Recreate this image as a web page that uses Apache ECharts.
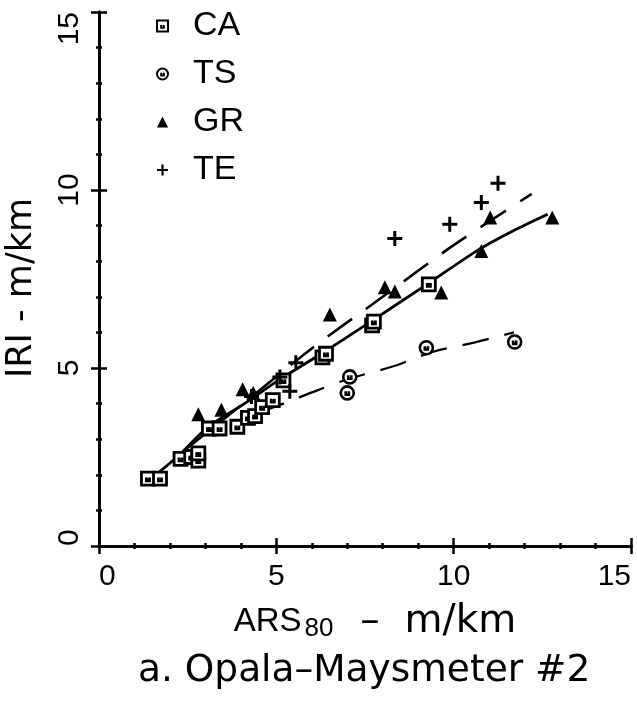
<!DOCTYPE html>
<html>
<head>
<meta charset="utf-8">
<script src="https://cdn.jsdelivr.net/npm/echarts@6/dist/echarts.min.js"></script>
<style>
html,body{margin:0;padding:0;background:#fff;}
#chart{width:637px;height:706px;}
</style>
</head>
<body>
<div id="chart"></div>
<script>
// ---- data ----
var seriesNames = ['CA', 'TS', 'GR', 'TE'];
var xTicks = [0, 5, 10, 15];
var yTicks = [0, 5, 10, 15];

var caPoints = [[1.38,1.89],[1.72,1.89],[2.3,2.45],[2.6,2.5],[2.8,2.4],[2.8,2.6],[3.1,3.3],[3.4,3.3],
  [3.9,3.35],[4.2,3.6],[4.4,3.65],[4.6,3.9],[4.9,4.1],[5.2,4.65],[6.3,5.3],[6.4,5.4],[7.7,6.2],[7.75,6.3],[9.3,7.35]];
var tsPoints = [[7.0,4.3],[7.07,4.75],[9.23,5.57],[11.72,5.73]];
var grPoints = [[2.8,3.7],[3.45,3.83],[4.05,4.4],[4.35,4.3],[6.51,6.5],[8.06,7.27],[8.34,7.15],[9.65,7.12],
  [10.78,8.29],[11.03,9.23],[12.78,9.23]];
var tePoints = [[4.3,4.2],[5.1,4.75],[5.38,4.35],[5.55,5.15],[8.34,8.64],[9.89,9.04],[10.78,9.65],[11.25,10.19]];

var solidCurve = [[1.35,1.8],[2.2,2.5],[3.05,3.32],[4.1,4.0],[5.1,4.68],[6.3,5.42],[7.63,6.28],[9.32,7.4],[10.73,8.34],[11.67,8.85],[12.65,9.32]];
var upperDashed = [[2.3,2.6],[4.0,3.95],[6.0,5.55],[8.0,7.0],[10.0,8.45],[12.2,9.89]];
var lowerDashed = [[4.5,3.75],[5.2,4.0],[6.1,4.35],[7.0,4.68],[8.3,5.05],[9.4,5.45],[10.6,5.72],[11.7,6.0]];

var xName = '{a|ARS}{sub|80}{b|  –  m/km}';
var yName = 'IRI - m/km';
var caption = 'a. Opala–Maysmeter #2';

// ---- symbols ----
var symSquare = 'path://M0,0H10V10H0Z M3.8,4V6.6H6.2V4';
var symCircle = 'path://M5,0A5,5 0 1,1 5,10A5,5 0 1,1 5,0Z M3.8,3.8V6.4H6.2V3.8';
var symPlus = 'path://M4,0H6V4H10V6H6V10H4V6H0V4H4Z';

var FONT = 'Liberation Sans';

function axisBase(isX, main) {
  var a = {
    type: 'value', min: 0, max: 15, interval: 5, show: true,
    gridIndex: main ? 0 : 1,
    axisLine: {show: true, onZero: false, lineStyle: {color: '#000', width: 3}},
    axisTick: {show: true, inside: !main, length: 8, lineStyle: {color: '#000', width: 2.5}},
    minorTick: {show: true, splitNumber: 5, length: 3, lineStyle: {color: '#000', width: 2.5}},
    splitLine: {show: false},
    minorSplitLine: {show: false},
    axisLabel: {show: false}
  };
  if (main) {
    a.axisLabel = {
      show: true, color: '#000', fontFamily: FONT, fontSize: 30,
      margin: isX ? 16 : 14,
      formatter: function (v) { return (isX ? xTicks : yTicks).indexOf(v) >= 0 ? String(v) : ''; }
    };
    if (isX) {
      a.axisLabel.alignMinLabel = 'left';
      a.axisLabel.alignMaxLabel = 'right';
    } else {
      a.axisLabel.rotate = 90;
      a.axisLabel.alignMinLabel = 'left';
      a.axisLabel.alignMaxLabel = 'right';
    }
  }
  return a;
}

var xMain = axisBase(true, true);
xMain.position = 'bottom';
xMain.name = xName;
xMain.nameLocation = 'middle';
xMain.nameGap = 56;
xMain.nameTextStyle = {
  color: '#000', fontFamily: FONT, fontSize: 33, padding: [0, 0, 0, 20],
  rich: {
    a: {fontFamily: FONT, fontSize: 33, color: '#000'},
    sub: {fontFamily: FONT, fontSize: 26, color: '#000', padding: [14, 2, 0, 3]},
    b: {fontFamily: 'DejaVu Sans', fontSize: 39, color: '#000'}
  }
};
var xDup = axisBase(true, false);
xDup.position = 'bottom';

var yMain = axisBase(false, true);
yMain.position = 'left';
yMain.name = yName;
yMain.nameLocation = 'middle';
yMain.nameGap = 60;
yMain.nameTextStyle = {color: '#000', fontFamily: 'DejaVu Sans', fontSize: 35, padding: [0, 18, 0, 0]};
var yDup = axisBase(false, false);
yDup.position = 'left';

function scatter(name, data, symbol, size, fill, bw) {
  return {
    name: name, type: 'scatter', data: data, symbol: symbol, symbolSize: size,
    xAxisIndex: 0, yAxisIndex: 0, z: 5,
    itemStyle: {color: fill, borderColor: '#000', borderWidth: bw, opacity: 1}
  };
}
function curve(data, type, width) {
  return {
    type: 'line', data: data, symbol: 'none', smooth: 0.3, silent: true,
    xAxisIndex: 0, yAxisIndex: 0, z: 3,
    lineStyle: {color: '#000', width: width, type: type}
  };
}

function gridBox() {
  return {left: 99, right: 6, top: 12, bottom: 160, containLabel: false, outerBoundsMode: 'none'};
}

var chart = echarts.init(document.getElementById('chart'), null, {renderer: 'canvas'});
chart.setOption({
  backgroundColor: '#fff',
  animation: false,
  title: {
    text: caption, left: 133, top: 647,
    textStyle: {color: '#000', fontFamily: 'DejaVu Sans', fontWeight: 'normal', fontSize: 37.5}
  },
  legend: {
    orient: 'vertical', left: 151, top: 4,
    itemWidth: 11, itemHeight: 11, itemGap: 14,
    data: [
      {name: 'CA', icon: symSquare},
      {name: 'TS', icon: symCircle},
      {name: 'GR', icon: 'triangle'},
      {name: 'TE', icon: symPlus}
    ],
    textStyle: {color: '#000', fontFamily: FONT, fontSize: 34, lineHeight: 34, padding: [0, 0, 0, 20]}
  },
  grid: [gridBox(), gridBox()],
  xAxis: [xMain, xDup],
  yAxis: [yMain, yDup],
  series: [
    curve(solidCurve, 'solid', 2.8),
    curve(upperDashed, [30, 17], 2.6),
    curve(lowerDashed, [27, 16], 2.2),
    scatter('CA', caPoints, symSquare, 13, '#fff', 2.8),
    scatter('TS', tsPoints, symCircle, 13, '#fff', 2.6),
    scatter('GR', grPoints, 'triangle', 14, '#000', 0),
    scatter('TE', tePoints, symPlus, 15, '#000', 0)
  ]
});
</script>
</body>
</html>
